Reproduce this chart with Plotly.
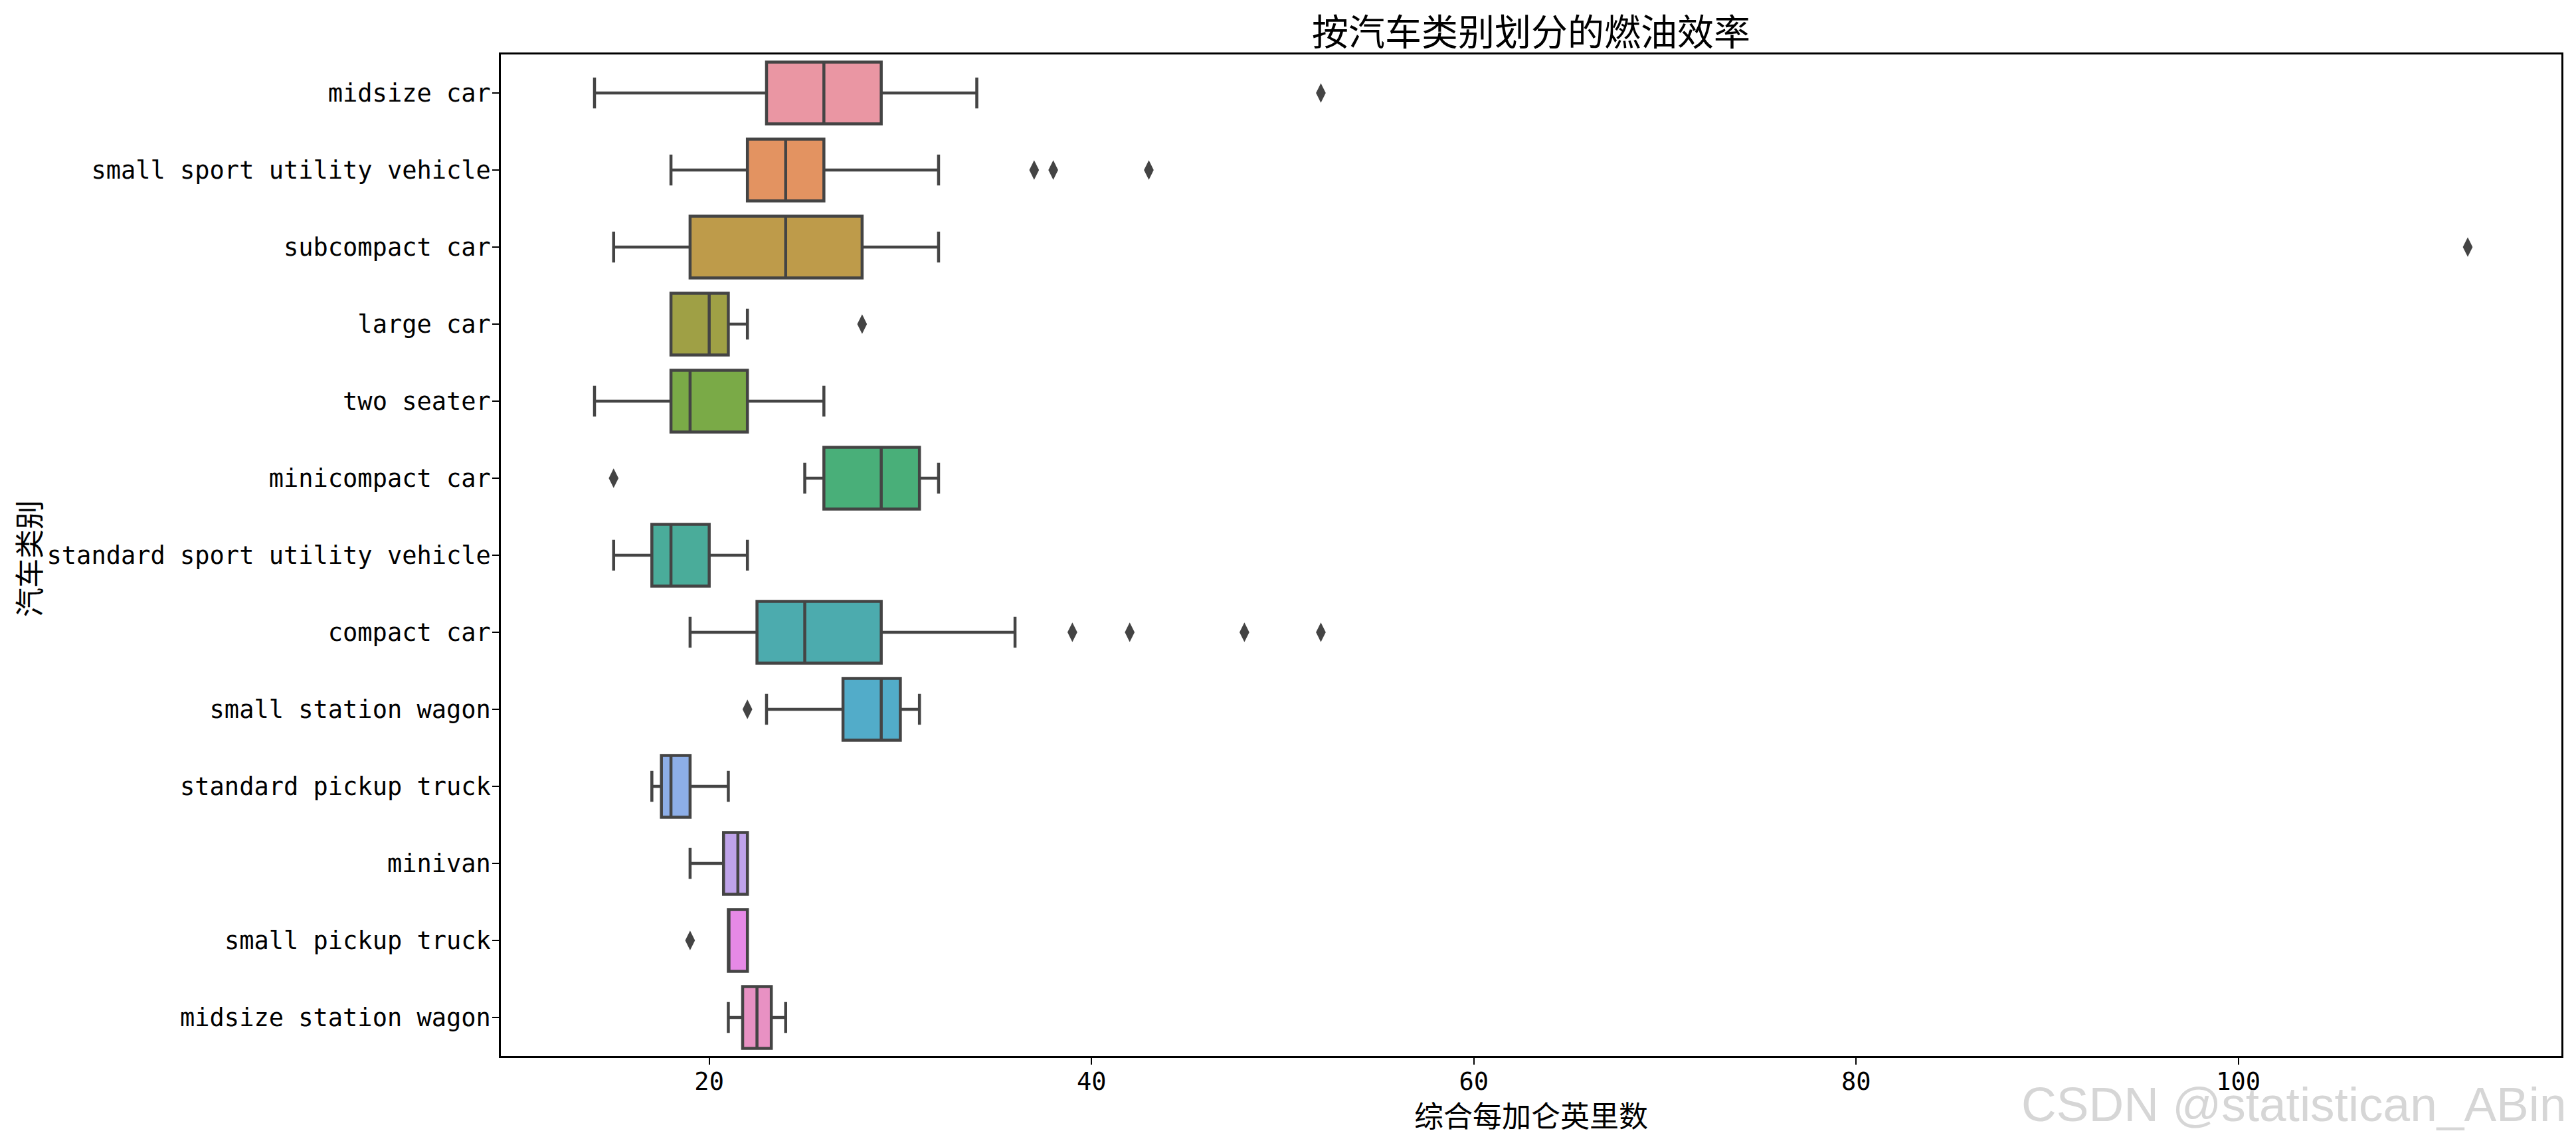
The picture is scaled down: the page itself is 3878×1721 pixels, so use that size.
import math
import colorsys
import plotly.graph_objects as go

# ---------------- data ----------------
categories = [
    "midsize car", "small sport utility vehicle", "subcompact car", "large car",
    "two seater", "minicompact car", "standard sport utility vehicle", "compact car",
    "small station wagon", "standard pickup truck", "minivan", "small pickup truck",
    "midsize station wagon",
]
whisker_low = [14, 18, 15, 18, 14, 25, 15, 19, 23, 17, 19, 21, 21]
q1_values = [23, 22, 19, 18, 18, 26, 17, 22.5, 27, 17.5, 20.75, 21, 21.75]
median_values = [26, 24, 24, 20, 19, 29, 18, 25, 29, 18, 21.5, 21, 22.5]
q3_values = [29, 26, 28, 21, 22, 31, 20, 29, 30, 19, 22, 22, 23.25]
whisker_high = [34, 32, 32, 22, 26, 32, 22, 36, 31, 21, 22, 22, 24]
outlier_values = [
    [52], [37, 38, 43], [112], [28], [], [15], [], [39, 42, 48, 52], [22], [], [], [19], [],
]
x_tick_values = [20, 40, 60, 80, 100]

title_text = "按汽车类别划分的燃油效率"
x_title = "综合每加仑英里数"
y_title = "汽车类别"
watermark = "CSDN @statistican_ABin"

# ---------------- seaborn-style husl palette ----------------
_M = [[3.2406, -1.5372, -0.4986], [-0.9689, 1.8758, 0.0415], [0.0557, -0.2040, 1.0570]]
_refU, _refV = 0.19784, 0.46834
_lab_e, _lab_k = 0.008856, 903.3


def _max_chroma(L, H):
    hrad = math.radians(H)
    sinH, cosH = math.sin(hrad), math.cos(hrad)
    sub1 = (L + 16) ** 3.0 / 1560896.0
    sub2 = sub1 if sub1 > 0.008856 else (L / 903.3)
    result = float("inf")
    for m1, m2, m3 in _M:
        top = (0.99915 * m1 + 1.05122 * m2 + 1.14460 * m3) * sub2
        rbottom = 0.86330 * m3 - 0.17266 * m2
        lbottom = 0.12949 * m3 - 0.38848 * m1
        bottom = (rbottom * sinH + lbottom * cosH) * sub2
        for t in (0.0, 1.0):
            C = L * (top - 1.05122 * t) / (bottom + 0.17266 * sinH * t)
            if 0.0 < C < result:
                result = C
    return result


def _husl_to_rgb(H, S, L):
    C = _max_chroma(L, H) / 100.0 * S
    U = math.cos(math.radians(H)) * C
    V = math.sin(math.radians(H)) * C
    varY = ((L + 16.0) / 116.0) ** 3 if L > _lab_k * _lab_e else L / _lab_k
    varU = U / (13.0 * L) + _refU
    varV = V / (13.0 * L) + _refV
    Y = varY
    X = 0.0 - (9.0 * Y * varU) / ((varU - 4.0) * varV - varU * varV)
    Z = (9.0 * Y - (15.0 * varV * Y) - (varV * X)) / (3.0 * varV)
    out = []
    for row in _M:
        c = row[0] * X + row[1] * Y + row[2] * Z
        c = 12.92 * c if c <= 0.0031308 else 1.055 * c ** (1 / 2.4) - 0.055
        out.append(min(max(c, 0.0), 1.0))
    return out


def husl_palette(n, h=0.01, s=0.9, l=0.7, desat=0.75):
    cols = []
    for i in range(n):
        hue = ((i / n) + h) % 1 * 359
        r, g, b = _husl_to_rgb(hue, s * 99, l * 99)
        hh, ll, ss = colorsys.rgb_to_hls(r, g, b)
        r, g, b = colorsys.hls_to_rgb(hh, ll, ss * desat)
        cols.append("#%02x%02x%02x" % (round(r * 255), round(g * 255), round(b * 255)))
    return cols


palette = husl_palette(len(categories))
edge_color = "#444444"

# ---------------- figure ----------------
fig = go.Figure()
for i, cat in enumerate(categories):
    fig.add_trace(go.Box(
        y=[cat], q1=[q1_values[i]], median=[median_values[i]], q3=[q3_values[i]],
        lowerfence=[whisker_low[i]], upperfence=[whisker_high[i]],
        orientation="h", fillcolor=palette[i],
        line=dict(color=edge_color, width=4.5),
        width=0.8, whiskerwidth=0.5, boxpoints=False,
        showlegend=False, hoverinfo="skip",
    ))

out_x, out_y = [], []
for cat, vals in zip(categories, outlier_values):
    for v in vals:
        out_x.append(v)
        out_y.append(cat)
fig.add_trace(go.Scatter(
    x=out_x, y=out_y, mode="markers",
    marker=dict(symbol="diamond-tall", size=21, color=edge_color, line=dict(width=0)),
    showlegend=False, hoverinfo="skip",
))

tick_font = dict(family="DejaVu Sans Mono", size=37, color="black")
cjk = "Noto Sans CJK SC"

# the page body adds an 8 px offset; size the figure to fit inside the window
W, H = 3870, 1713
fig.update_layout(
    width=W, height=H, autosize=False,
    margin=dict(l=746, r=22, t=74, b=131),
    paper_bgcolor="white", plot_bgcolor="white",
    boxmode="overlay",
    title=dict(text=title_text, x=0.5, xref="paper", xanchor="center",
               y=1 - 41 / H, yref="container", yanchor="middle",
               font=dict(family=cjk, size=55, color="black")),
    xaxis=dict(range=[9.1, 116.9], tickvals=x_tick_values, ticktext=[str(v) for v in x_tick_values],
               showgrid=False, zeroline=False, showline=True, mirror=True,
               linecolor="black", linewidth=2.5, ticks="outside", ticklen=10, tickwidth=2,
               tickcolor="black", tickfont=tick_font, ticklabelstandoff=-6),
    yaxis=dict(type="category", categoryorder="array", categoryarray=categories,
               range=[len(categories) - 0.5, -0.5],
               showgrid=False, zeroline=False, showline=True, mirror=True,
               linecolor="black", linewidth=2.5, ticks="outside", ticklen=10, tickwidth=2,
               tickcolor="black", tickfont=tick_font, ticklabelstandoff=-5),
    annotations=[
        dict(text=x_title, xref="paper", yref="paper", x=0.5, y=-88 / 1508,
             xanchor="center", yanchor="middle", showarrow=False,
             font=dict(family=cjk, size=44, color="black")),
        dict(text=y_title, xref="paper", yref="paper", x=-712 / 3102, y=0.5 - 5 / 1508,
             xanchor="center", yanchor="middle", textangle=-90, showarrow=False,
             font=dict(family=cjk, size=44, color="black")),
        dict(text=watermark, xref="paper", yref="paper", x=(3866 - 754) / 3102, y=-72 / 1508,
             xanchor="right", yanchor="middle", showarrow=False,
             font=dict(family="Liberation Sans", size=73, color="#d6d6d6")),
    ],
)

fig.write_html("out.html")
